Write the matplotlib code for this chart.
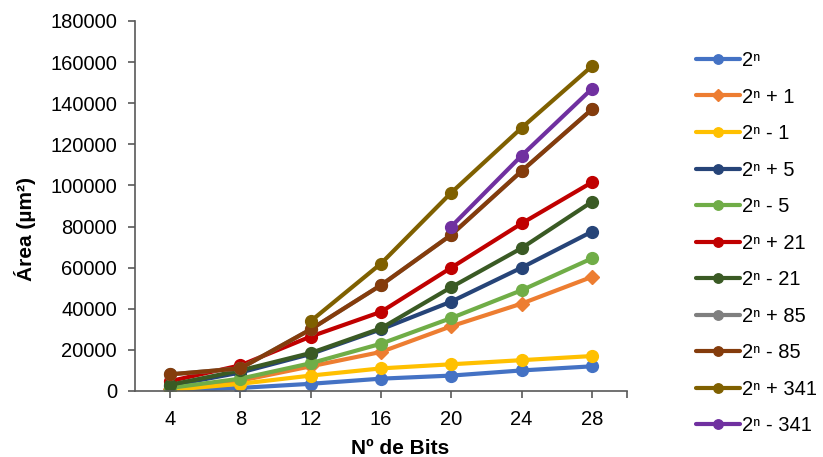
import matplotlib
matplotlib.use("Agg")
import matplotlib.pyplot as plt
from matplotlib.ticker import MultipleLocator, FixedLocator

plt.rcParams['font.family'] = ['Liberation Sans', 'DejaVu Sans']

bits = [4, 8, 12, 16, 20, 24, 28]

labels = ["2ⁿ", "2ⁿ + 1", "2ⁿ - 1", "2ⁿ + 5", "2ⁿ - 5", "2ⁿ + 21", "2ⁿ - 21",
          "2ⁿ + 85", "2ⁿ - 85", "2ⁿ + 341", "2ⁿ - 341"]
colors = ["#4472C4", "#ED7D31", "#FFC000", "#264478", "#70AD47", "#C00000", "#3A5A24",
          "#7F7F7F", "#843C0C", "#7F6000", "#7030A0"]
markers = ["o", "D", "o", "o", "o", "o", "o", "o", "o", "o", "o"]

s_2n = [200, 1500, 3500, 6000, 7500, 10000, 12000]
s_p1 = [1000, 5000, 12000, 19000, 31500, 42500, 55500]
s_m1 = [500, 3500, 7500, 11000, 13000, 15000, 17000]
s_p5 = [2600, 9000, 18000, 30000, 43500, 60000, 77500]
s_m5 = [1500, 6000, 13500, 23000, 35500, 49000, 64500]
s_p21 = [4800, 12500, 26500, 38500, 60000, 81500, 101500]
s_m21 = [3000, 10000, 18500, 30500, 50500, 69500, 92000]
s_p85 = [8100, 11000, 30000, 51500, 76000, 107000, 137000]
s_m85 = [8100, 11000, 30000, 51500, 76000, 107000, 137000]
s_p341 = [None, None, 34000, 62000, 96500, 128000, 158000]
s_m341 = [None, None, None, None, 80000, 114500, 147000]

series = [s_2n, s_p1, s_m1, s_p5, s_m5, s_p21, s_m21, s_p85, s_m85, s_p341, s_m341]

fig = plt.figure(figsize=(8.23, 4.57), dpi=100)
ax = fig.add_axes([135/823, 1 - 391/457, (627-135)/823, (391-21)/457])

for lab, col, mk, ys in zip(labels, colors, markers, series):
    xs = [x for x, y in zip(bits, ys) if y is not None]
    yv = [y for y in ys if y is not None]
    ms = 7.5 if mk == "D" else 8.5
    ax.plot(xs, yv, color=col, marker=mk, markersize=ms, linewidth=3.0,
            label=lab, solid_capstyle='round', solid_joinstyle='round')

ax.set_xlim(2, 30)
ax.set_ylim(0, 180000)
ax.xaxis.set_major_locator(FixedLocator(bits))
ax.xaxis.set_minor_locator(FixedLocator([30]))
ax.yaxis.set_major_locator(MultipleLocator(20000))

for s in ["top", "right"]:
    ax.spines[s].set_visible(False)
for s in ["left", "bottom"]:
    ax.spines[s].set_color("#595959")
    ax.spines[s].set_linewidth(1.2)

ax.tick_params(axis='both', which='both', colors="#595959", labelcolor="black",
               labelsize=14.5, length=5, width=1.2, direction='out')
ax.tick_params(axis='x', which='minor', length=5)
ax.tick_params(axis='x', pad=9)
ax.tick_params(axis='y', pad=8)

ax.set_xlabel("Nº de Bits", fontsize=15, fontweight='bold', va='center')
ax.xaxis.set_label_coords((400-135)/492, (391-448)/370)
ax.set_ylabel("Área (µm²)", fontsize=15, fontweight='bold', va='center')
ax.yaxis.set_label_coords((25-135)/492, (391-229)/370)

leg = ax.legend(loc='upper left', bbox_to_anchor=(696/823, 1 - 51/457),
                bbox_transform=fig.transFigure, frameon=False, fontsize=14.5,
                handlelength=2.2, handletextpad=0.08, labelspacing=0.87,
                borderaxespad=0, borderpad=0, markerscale=0.8)

fig.savefig("out.png", dpi=100)
